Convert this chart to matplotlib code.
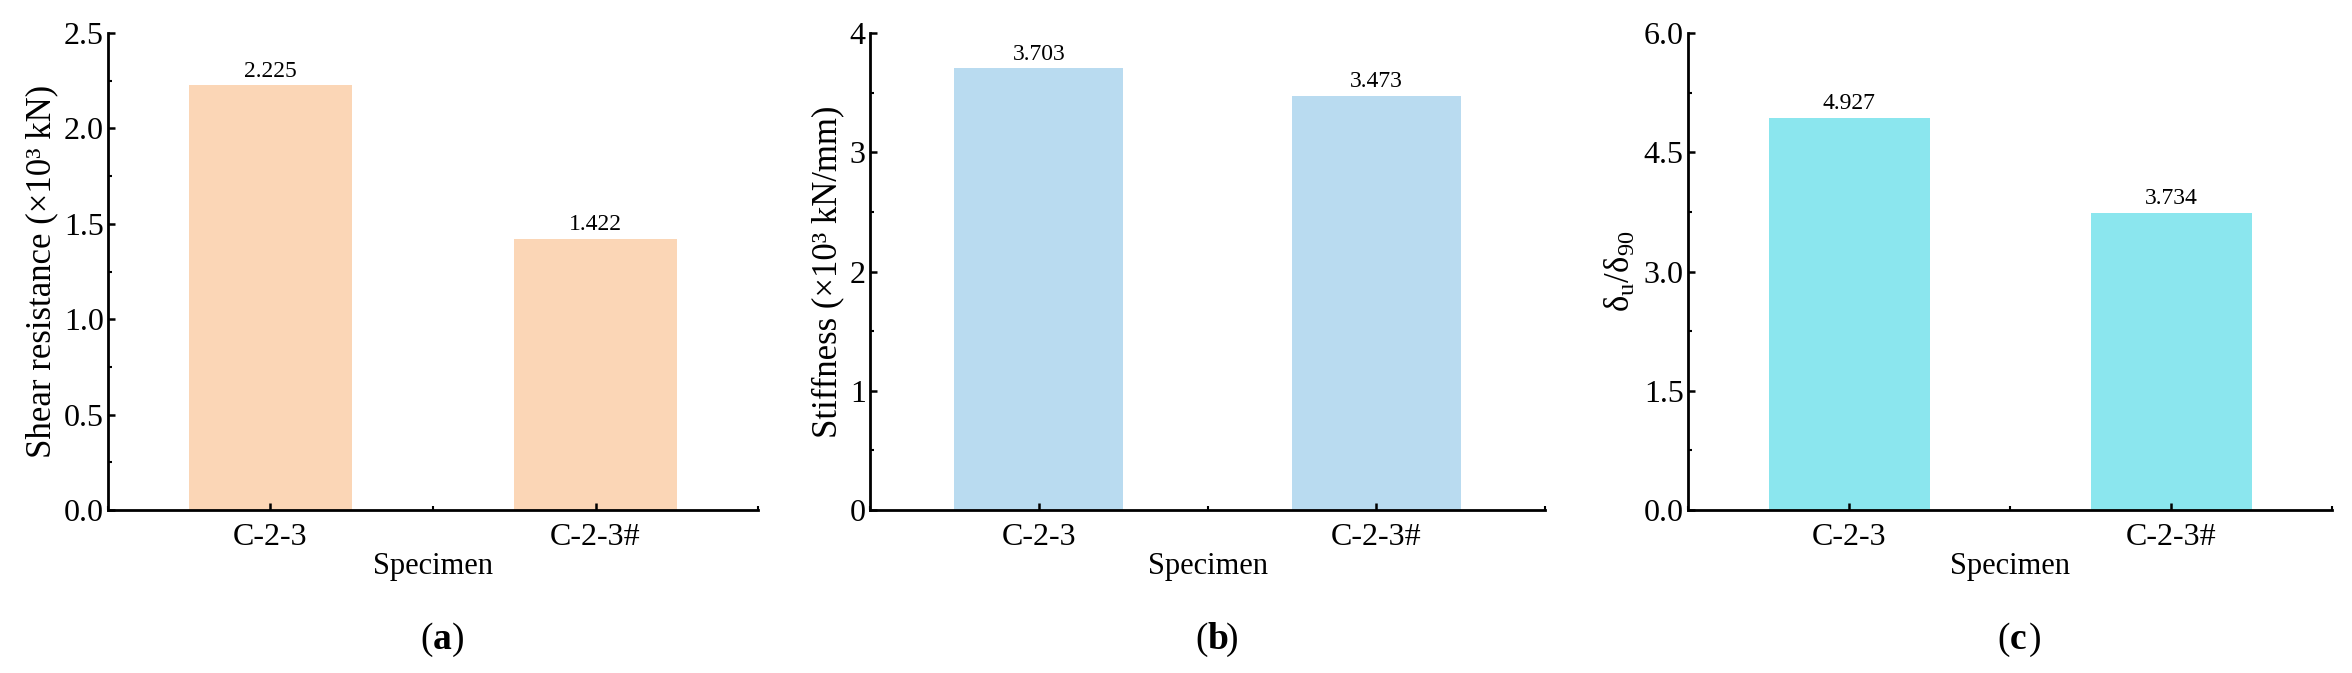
import numpy as np
import matplotlib
matplotlib.use('Agg')
from matplotlib import pyplot as plt
from matplotlib.ticker import MultipleLocator, FormatStrFormatter

specimens = ['C-2-3', 'C-2-3#']
shear = [2.225, 1.422]
stiffness = [3.703, 3.473]
ductility = [4.927, 3.734]

plt.rcParams['font.family'] = ['Liberation Serif', 'DejaVu Serif']
plt.rcParams['mathtext.fontset'] = 'custom'
plt.rcParams['mathtext.rm'] = 'Liberation Serif'
plt.rcParams['mathtext.it'] = 'Liberation Serif:italic'

fig = plt.figure(figsize=(23.52, 6.73), dpi=100)

# left, width of each panel (figure fraction)
panels = [
  (0.0459, 0.2764, shear, '#FBD6B6', 'Shear resistance (×10³ kN)', 2.5, 0.5, '%.1f', '(a)'),
  (0.3699, 0.2870, stiffness, '#B9DBF0', 'Stiffness (×10³ kN/mm)', 4, 1, '%d', '(b)'),
  (0.7177, 0.2738, ductility, '#8BE6EE', 'δ$_\\mathrm{u}$/δ$_{90}$', 6.0, 1.5, '%.1f', '(c)'),
]

bottom = 0.242
height = 0.709
for left, width, vals, col, ylab, ymax, step, fmt, tag in panels:
  ax = fig.add_axes([left, bottom, width, height])
  x = np.arange(1, len(vals)+1)
  ax.bar(x, vals, width=0.5, color=col, edgecolor='none')
  for xi, v in zip(x, vals):
    ax.text(xi, v + ymax*0.008, '{:.3f}'.format(v), ha='center', va='bottom', fontsize=17)
  ax.set_xlim(0.5, 2.5)
  ax.set_ylim(0, ymax)
  ax.set_xticks(x)
  ax.set_xticklabels(specimens)
  ax.xaxis.set_minor_locator(MultipleLocator(0.5))
  ax.yaxis.set_major_locator(MultipleLocator(step))
  ax.yaxis.set_minor_locator(MultipleLocator(step/2))
  ax.yaxis.set_major_formatter(FormatStrFormatter(fmt))
  for s in ['top', 'right']:
    ax.spines[s].set_visible(False)
  for s in ['left', 'bottom']:
    ax.spines[s].set_linewidth(2.0)
  ax.tick_params(which='major', direction='in', length=5, width=1.8, labelsize=23)
  ax.tick_params(axis='x', which='major', pad=9)
  ax.tick_params(axis='y', which='major', pad=3)
  ax.tick_params(which='minor', direction='in', length=3, width=1.5)
  ax.set_xlabel('Specimen', fontsize=22, labelpad=0)
  ax.set_ylabel(ylab, fontsize=25, labelpad=4)
  fig.text(left + width/2, 0.05, tag[0], fontsize=27, ha='right', va='center')
  fig.text(left + width/2, 0.05, tag[1], fontsize=27, fontweight='bold', ha='left', va='center')
  fig.text(left + width/2 + 0.0078, 0.05, tag[2], fontsize=27, ha='left', va='center')

plt.savefig('out.png', dpi=100)
